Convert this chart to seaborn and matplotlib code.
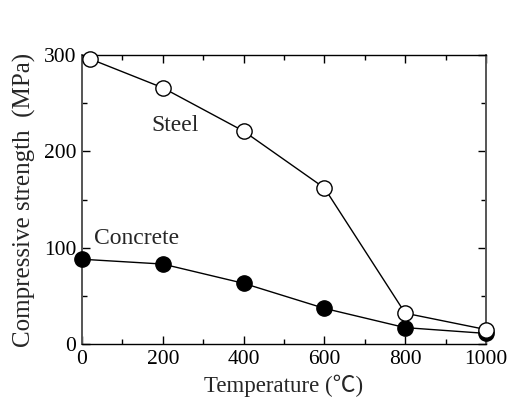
import matplotlib
matplotlib.use("Agg")
import matplotlib.pyplot as plt
import seaborn as sns
import pandas as pd
from matplotlib.ticker import MultipleLocator

sns.set_theme(style="ticks")
plt.rcParams["font.family"] = ["Liberation Serif", "Noto Sans CJK SC"]

# Compressive strength vs. temperature
steel_temp = [20, 200, 400, 600, 800, 1000]
steel_strength = [296, 266, 221, 162, 32, 15]
concrete_temp = [0, 200, 400, 600, 800, 1000]
concrete_strength = [88, 83, 63, 37, 17, 11]

x_ticks = [0, 200, 400, 600, 800, 1000]
y_ticks = [0, 100, 200, 300]

steel = pd.DataFrame({"T": steel_temp, "S": steel_strength})
concrete = pd.DataFrame({"T": concrete_temp, "S": concrete_strength})

fig = plt.figure(figsize=(5.12, 4.03), dpi=100)
ax = fig.add_axes([0.1602, 0.1464, 0.789, 0.717])

sns.lineplot(data=concrete, x="T", y="S", ax=ax, color="black", lw=1.0,
             marker="o", markersize=11, markerfacecolor="black",
             markeredgecolor="black", markeredgewidth=1.0, clip_on=False, zorder=3)
sns.lineplot(data=steel, x="T", y="S", ax=ax, color="black", lw=1.0,
             marker="o", markersize=11, markerfacecolor="white",
             markeredgecolor="black", markeredgewidth=1.0, clip_on=False, zorder=4)

ax.set_xlim(0, 1000)
ax.set_ylim(0, 300)
ax.set_xticks(x_ticks)
ax.set_yticks(y_ticks)
ax.xaxis.set_minor_locator(MultipleLocator(100))
ax.yaxis.set_minor_locator(MultipleLocator(50))
ax.tick_params(which="both", direction="in", top=True, right=True,
               labelsize=15.5, colors="black", width=1.0, pad=4)
ax.tick_params(which="major", length=6)
ax.tick_params(which="minor", length=3.5)

for side in ["left", "right"]:
    ax.spines[side].set_color("#555555")
    ax.spines[side].set_linewidth(1.4)
for side in ["top", "bottom"]:
    ax.spines[side].set_color("black")
    ax.spines[side].set_linewidth(1.0)

ax.set_xlabel("Temperature (\u2103)", fontsize=16.5, labelpad=4)
ax.set_ylabel("Compressive strength  (MPa)", fontsize=18, labelpad=6)

ax.text(231, 227, "Steel", fontsize=17, ha="center", va="center")
ax.text(136, 110, "Concrete", fontsize=17, ha="center", va="center")

fig.savefig("out.png", dpi=100)
